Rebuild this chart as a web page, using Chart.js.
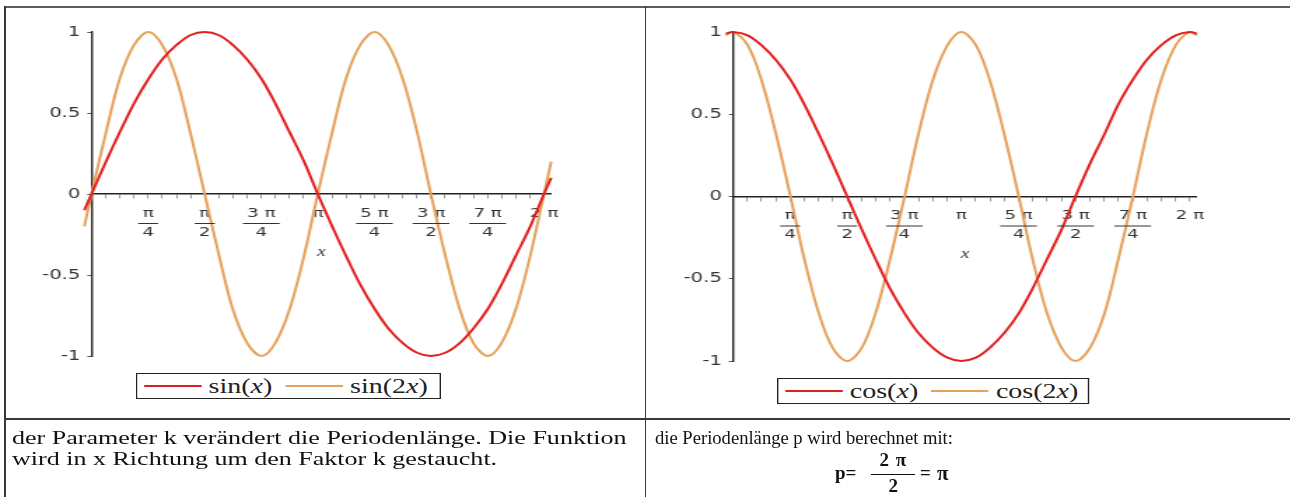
<!DOCTYPE html>
<html>
<head>
<meta charset="utf-8">
<title>Periodenlänge</title>
<script src="https://cdn.jsdelivr.net/npm/chart.js@4.4.1/dist/chart.umd.min.js"></script>
<style>
  body { margin: 0; background: #fff; width: 1290px; height: 497px; overflow: hidden; position: relative;
         font-family: "Liberation Serif", "Times New Roman", serif; color: #111; }
  .rule { position: absolute; background: #3a3a3a; }
  /* plot panels are drawn narrow and stretched sideways */
  .plots { position: absolute; left: 0; top: 0; width: 922px; height: 497px; transform: scaleX(1.4); transform-origin: 0 0; }
  .plots canvas { position: absolute; left: 0; top: 0; }
  .legend { position: absolute; box-sizing: border-box; height: 26px; border: 1.5px solid #222; background: #fff;
            display: flex; align-items: center; padding-left: 4.5px; font-size: 20px; color: #222; white-space: nowrap; }
  .legend .item { display: flex; align-items: center; }
  .legend .item + .item { margin-left: 9px; }
  .legend .line { display: inline-block; width: 41px; height: 2px; margin-right: 5.5px; }
  .note { position: absolute; top: 427px; font-size: 18.6px; line-height: 21px; white-space: nowrap; }
  .note.left { left: 12px; transform: scaleX(1.4); transform-origin: 0 0; }
  .note.right { left: 655px; }
  .formula { position: absolute; left: 835px; top: 449px; display: flex; align-items: center;
             font-weight: bold; font-size: 19px; white-space: nowrap; }
  .frac { display: inline-flex; flex-direction: column; align-items: center; margin: 0 5px 0 15px; line-height: 22px; }
  .frac .num { border-bottom: 1.3px solid #111; padding: 0 8px 3px; letter-spacing: 1px; }
  .formula .pi { margin-left: 6px; font-size: 21px; }
</style>
</head>
<body>
<div class="rule" style="left:4px; top:6px; width:1290px; height:2px; background:#5c5c5c"></div>
<div class="rule" style="left:4px; top:6px; width:2px; height:491px"></div>
<div class="rule" style="left:644.5px; top:6px; width:1.6px; height:491px"></div>
<div class="rule" style="left:4px; top:418px; width:1290px; height:1.8px"></div>

<div class="plots">
  <canvas id="sinPlot" width="922" height="497"></canvas>
  <canvas id="cosPlot" width="922" height="497"></canvas>
  <div class="legend" id="sinLegend" style="left:97px; top:373px; width:218px"></div>
  <div class="legend" id="cosLegend" style="left:555px; top:378px; width:223px"></div>
</div>

<div class="note left">der Parameter k verändert die Periodenlänge. Die Funktion<br>wird in x Richtung um den Faktor k gestaucht.</div>
<div class="note right">die Periodenlänge p wird berechnet mit:</div>
<div class="formula">p=<span class="frac"><span class="num">2 π</span><span>2</span></span>=<span class="pi">π</span></div>

<script>
// sample positions (radians), π/16 apart plus a small overhang at both ends
const xs = [-0.1, 0, 0.2, 0.39, 0.59, 0.79, 0.98, 1.18, 1.37, 1.57, 1.77, 1.96, 2.16, 2.36, 2.55, 2.75, 2.95,
            3.14, 3.34, 3.53, 3.73, 3.93, 4.12, 4.32, 4.52, 4.71, 4.91, 5.11, 5.3, 5.5, 5.69, 5.89, 6.09, 6.28, 6.38];

const sinX  = [-0.1, 0, 0.2, 0.38, 0.56, 0.71, 0.83, 0.92, 0.98, 1, 0.98, 0.92, 0.83, 0.71, 0.56, 0.38, 0.2,
               0, -0.2, -0.38, -0.56, -0.71, -0.83, -0.92, -0.98, -1, -0.98, -0.92, -0.83, -0.71, -0.56, -0.38, -0.2, 0, 0.1];
const sin2X = [-0.2, 0, 0.38, 0.71, 0.92, 1, 0.92, 0.71, 0.38, 0, -0.38, -0.71, -0.92, -1, -0.92, -0.71, -0.38,
               0, 0.38, 0.71, 0.92, 1, 0.92, 0.71, 0.38, 0, -0.38, -0.71, -0.92, -1, -0.92, -0.71, -0.38, 0, 0.2];
const cosX  = [0.99, 1, 0.98, 0.92, 0.83, 0.71, 0.56, 0.38, 0.2, 0, -0.2, -0.38, -0.56, -0.71, -0.83, -0.92, -0.98,
               -1, -0.98, -0.92, -0.83, -0.71, -0.56, -0.38, -0.2, 0, 0.2, 0.38, 0.56, 0.71, 0.83, 0.92, 0.98, 1, 0.99];
const cos2X = [0.98, 1, 0.92, 0.71, 0.38, 0, -0.38, -0.71, -0.92, -1, -0.92, -0.71, -0.38, 0, 0.38, 0.71, 0.92,
               1, 0.92, 0.71, 0.38, 0, -0.38, -0.71, -0.92, -1, -0.92, -0.71, -0.38, 0, 0.38, 0.71, 0.92, 1, 0.98];

// labels at every fourth tick (multiples of π/4), minor ticks every π/16
const xTickLabels = [['π', '4'], ['π', '2'], ['3 π', '4'], 'π', ['5 π', '4'], ['3 π', '2'], ['7 π', '4'], '2 π'];
const yTickValues = [-1, -0.5, 0, 0.5, 1];
const xMax = 6.38;

const RED = '#e0201e';
const ORANGE = '#e5a25c';
const TICK_FONT = { family: 'DejaVu Sans', size: 13, lineHeight: '19px' };
const Y_AXIS_W = 40;

function curve(ys) {
  return xs.map((x, i) => ({ x: x, y: ys[i] }));
}

function series(label, ys, color) {
  return {
    label: label,
    data: curve(ys),
    borderColor: color,
    backgroundColor: color,
    borderWidth: 2,
    pointRadius: 0,
    tension: 0.34,
    capBezierPoints: false,
    clip: false
  };
}

// horizontal bar between numerator and denominator of the π labels
const fractionBars = {
  id: 'fractionBars',
  afterDraw(chart) {
    const sc = chart.scales.x;
    const ticks = sc.options.ticks;
    const barY = chart.scales.y.getPixelForValue(0) + sc.options.grid.tickLength + ticks.padding + 19 + 0.5;
    const ctx = chart.ctx;
    ctx.save();
    ctx.font = TICK_FONT.size + 'px "' + TICK_FONT.family + '"';
    ctx.strokeStyle = '#333';
    ctx.lineWidth = 1;
    sc.ticks.forEach((t, i) => {
      if (!Array.isArray(t.label)) return;
      const w = Math.max(...t.label.map(s => ctx.measureText(s).width)) + 6;
      const x = sc.getPixelForTick(i);
      ctx.beginPath();
      ctx.moveTo(x - w / 2, barY);
      ctx.lineTo(x + w / 2, barY);
      ctx.stroke();
    });
    ctx.restore();
  }
};

function renderLegend(chart, el) {
  el.innerHTML = chart.data.datasets.map(ds =>
    '<span class="item"><span class="line" style="background:' + ds.borderColor + '"></span>' +
    '<span>' + ds.label.replace(/x/g, '<i>x</i>') + '</span></span>'
  ).join('');
}

function makePlot(canvasId, legendId, datasets, area) {
  const chart = new Chart(document.getElementById(canvasId), {
    type: 'line',
    data: { datasets: datasets },
    plugins: [fractionBars],
    options: {
      responsive: false,
      animation: false,
      events: [],
      layout: { padding: { left: area.left - Y_AXIS_W, top: area.top, right: 922 - area.right, bottom: 497 - area.bottom } },
      plugins: { legend: { display: false }, tooltip: { enabled: false } },
      scales: {
        x: {
          type: 'linear',
          position: { y: 0 },
          min: 0,
          max: xMax,
          afterBuildTicks: (scale) => {
            scale.ticks = [];
            for (let k = 0; k <= 32; k++) scale.ticks.push({ value: k * Math.PI / 16 });
          },
          border: { display: true, color: '#222', width: 1.5 },
          grid: { display: true, drawOnChartArea: false, drawTicks: true, tickLength: 4, tickColor: '#9a9a9a' },
          ticks: {
            autoSkip: false,
            maxRotation: 0,
            padding: 6,
            color: '#333',
            font: TICK_FONT,
            callback: (value, index) => (index > 0 && index % 4 === 0) ? xTickLabels[index / 4 - 1] : ''
          },
          title: {
            display: true,
            text: 'x',
            color: '#333',
            font: { family: 'Liberation Serif', style: 'italic', size: 14, lineHeight: 1 },
            padding: { top: -3, bottom: 0 }
          }
        },
        y: {
          type: 'linear',
          position: 'left',
          min: -1,
          max: 1,
          afterBuildTicks: (scale) => { scale.ticks = yTickValues.map(v => ({ value: v })); },
          afterFit: (scale) => { scale.width = Y_AXIS_W; },
          border: { display: true, color: '#222', width: 1.4 },
          grid: { display: true, drawOnChartArea: false, drawTicks: true, tickLength: 3, tickColor: '#555' },
          ticks: {
            padding: 5,
            color: '#333',
            font: { family: 'DejaVu Sans', size: 14 },
            callback: (value) => String(value)
          }
        }
      }
    }
  });
  renderLegend(chart, document.getElementById(legendId));
  return chart;
}

makePlot('sinPlot', 'sinLegend',
  [series('sin(x)', sinX, RED), series('sin(2x)', sin2X, ORANGE)],
  { left: 65.4, right: 393.7, top: 32, bottom: 356 });

makePlot('cosPlot', 'cosLegend',
  [series('cos(x)', cosX, RED), series('cos(2x)', cos2X, ORANGE)],
  { left: 523.6, right: 854.9, top: 32, bottom: 361 });
</script>
</body>
</html>
